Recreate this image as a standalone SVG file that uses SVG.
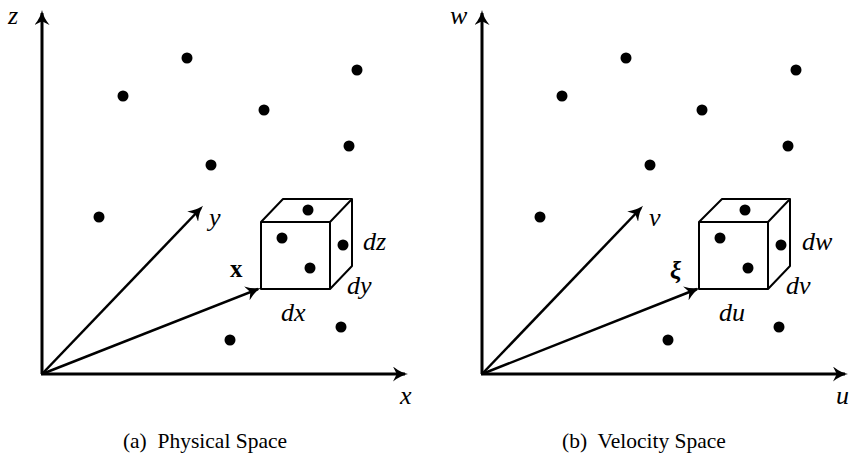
<svg xmlns="http://www.w3.org/2000/svg" width="849" height="462" viewBox="0 0 849 462">
<style>
.ax{stroke:#000;stroke-width:3;fill:none}
.vec{stroke:#000;stroke-width:2.5;fill:none}
.cube{stroke:#000;stroke-width:2;fill:#fff;stroke-linejoin:round}
.lbl{font-family:"Liberation Serif",serif;font-style:italic;font-size:26px;fill:#000}
.bold{font-family:"Liberation Serif",serif;font-weight:bold;font-size:25px;fill:#000}
.cap{font-family:"Liberation Serif",serif;font-size:21.5px;fill:#000;text-anchor:middle}
</style>
<defs>
<marker id="ah" viewBox="0 0 10 10" refX="8" refY="5" markerWidth="5" markerHeight="5" markerUnits="strokeWidth" orient="auto">
<path d="M0,0 Q5,4 10,5 Q5,6 0,10 L2.5,5 Z" fill="#000"/>
</marker>
<marker id="ah2" viewBox="0 0 10 10" refX="8" refY="5" markerWidth="6" markerHeight="6" markerUnits="strokeWidth" orient="auto">
<path d="M0,0 Q5,4 10,5 Q5,6 0,10 L2.5,5 Z" fill="#000"/>
</marker>
</defs>
<g id="physical">
<g id="connectors-a">
<line class="ax" x1="42" y1="374" x2="42" y2="13" marker-end="url(#ah)"/>
<line class="ax" x1="41" y1="374" x2="405" y2="374" marker-end="url(#ah)"/>
<line class="vec" x1="42" y1="374" x2="201" y2="208" marker-end="url(#ah2)"/>
<line class="vec" x1="42" y1="374" x2="258" y2="289" marker-end="url(#ah2)"/>
</g>
<g id="cube-a">
<path class="cube" d="M261,222 L283,199 L352,199 L352,266 L330,289 L261,289 Z"/>
<path class="cube" d="M261,222 L330,222 L352,199 M330,222 L330,289"/>
</g>
<g id="dots-a" fill="#000">
<circle cx="187" cy="58" r="5.5"/><circle cx="123" cy="96" r="5.5"/><circle cx="357" cy="70" r="5.5"/>
<circle cx="264" cy="110" r="5.5"/><circle cx="349" cy="146" r="5.5"/><circle cx="211" cy="165" r="5.5"/>
<circle cx="99" cy="217" r="5.5"/><circle cx="230" cy="340" r="5.5"/><circle cx="341" cy="327" r="5.5"/>
<circle cx="308" cy="210" r="5.5"/><circle cx="282" cy="238" r="5.5"/><circle cx="343" cy="245" r="5.5"/><circle cx="310" cy="268" r="5.5"/>
</g>
<g id="labels-a">
<text class="lbl" x="8" y="24">z</text>
<text class="lbl" x="400" y="404">x</text>
<text class="lbl" x="209" y="226">y</text>
<text class="bold" x="230" y="277">x</text>
<text class="lbl" x="363" y="250">dz</text>
<text class="lbl" x="347" y="294">dy</text>
<text class="lbl" x="281" y="321">dx</text>
<text class="cap" x="205" y="448" xml:space="preserve">(a)  Physical Space</text>
</g>
</g>
<g id="velocity">
<g id="connectors-b">
<line class="ax" x1="482" y1="374" x2="482" y2="13" marker-end="url(#ah)"/>
<line class="ax" x1="481" y1="374" x2="845" y2="374" marker-end="url(#ah)"/>
<line class="vec" x1="482" y1="374" x2="641" y2="208" marker-end="url(#ah2)"/>
<line class="vec" x1="482" y1="374" x2="697" y2="289" marker-end="url(#ah2)"/>
</g>
<g id="cube-b">
<path class="cube" d="M699,222 L722,199 L790,199 L790,266 L768,289 L699,289 Z"/>
<path class="cube" d="M699,222 L768,222 L790,199 M768,222 L768,289"/>
</g>
<g id="dots-b" fill="#000">
<circle cx="626" cy="58" r="5.5"/><circle cx="562" cy="96" r="5.5"/><circle cx="796" cy="70" r="5.5"/>
<circle cx="702" cy="110" r="5.5"/><circle cx="788" cy="146" r="5.5"/><circle cx="650" cy="165" r="5.5"/>
<circle cx="540" cy="217" r="5.5"/><circle cx="668" cy="340" r="5.5"/><circle cx="779" cy="327" r="5.5"/>
<circle cx="745" cy="210" r="5.5"/><circle cx="720" cy="238" r="5.5"/><circle cx="781" cy="245" r="5.5"/><circle cx="748" cy="268" r="5.5"/>
</g>
<g id="labels-b">
<text class="lbl" x="450" y="24">w</text>
<text class="lbl" x="836" y="404">u</text>
<text class="lbl" x="649" y="226">v</text>
<text class="bold" font-style="italic" font-size="27" x="670" y="279">ξ</text>
<text class="lbl" x="802" y="250">dw</text>
<text class="lbl" x="786" y="294">dv</text>
<text class="lbl" x="719" y="321">du</text>
<text class="cap" x="644" y="448" xml:space="preserve">(b)  Velocity Space</text>
</g>
</g>
</svg>
